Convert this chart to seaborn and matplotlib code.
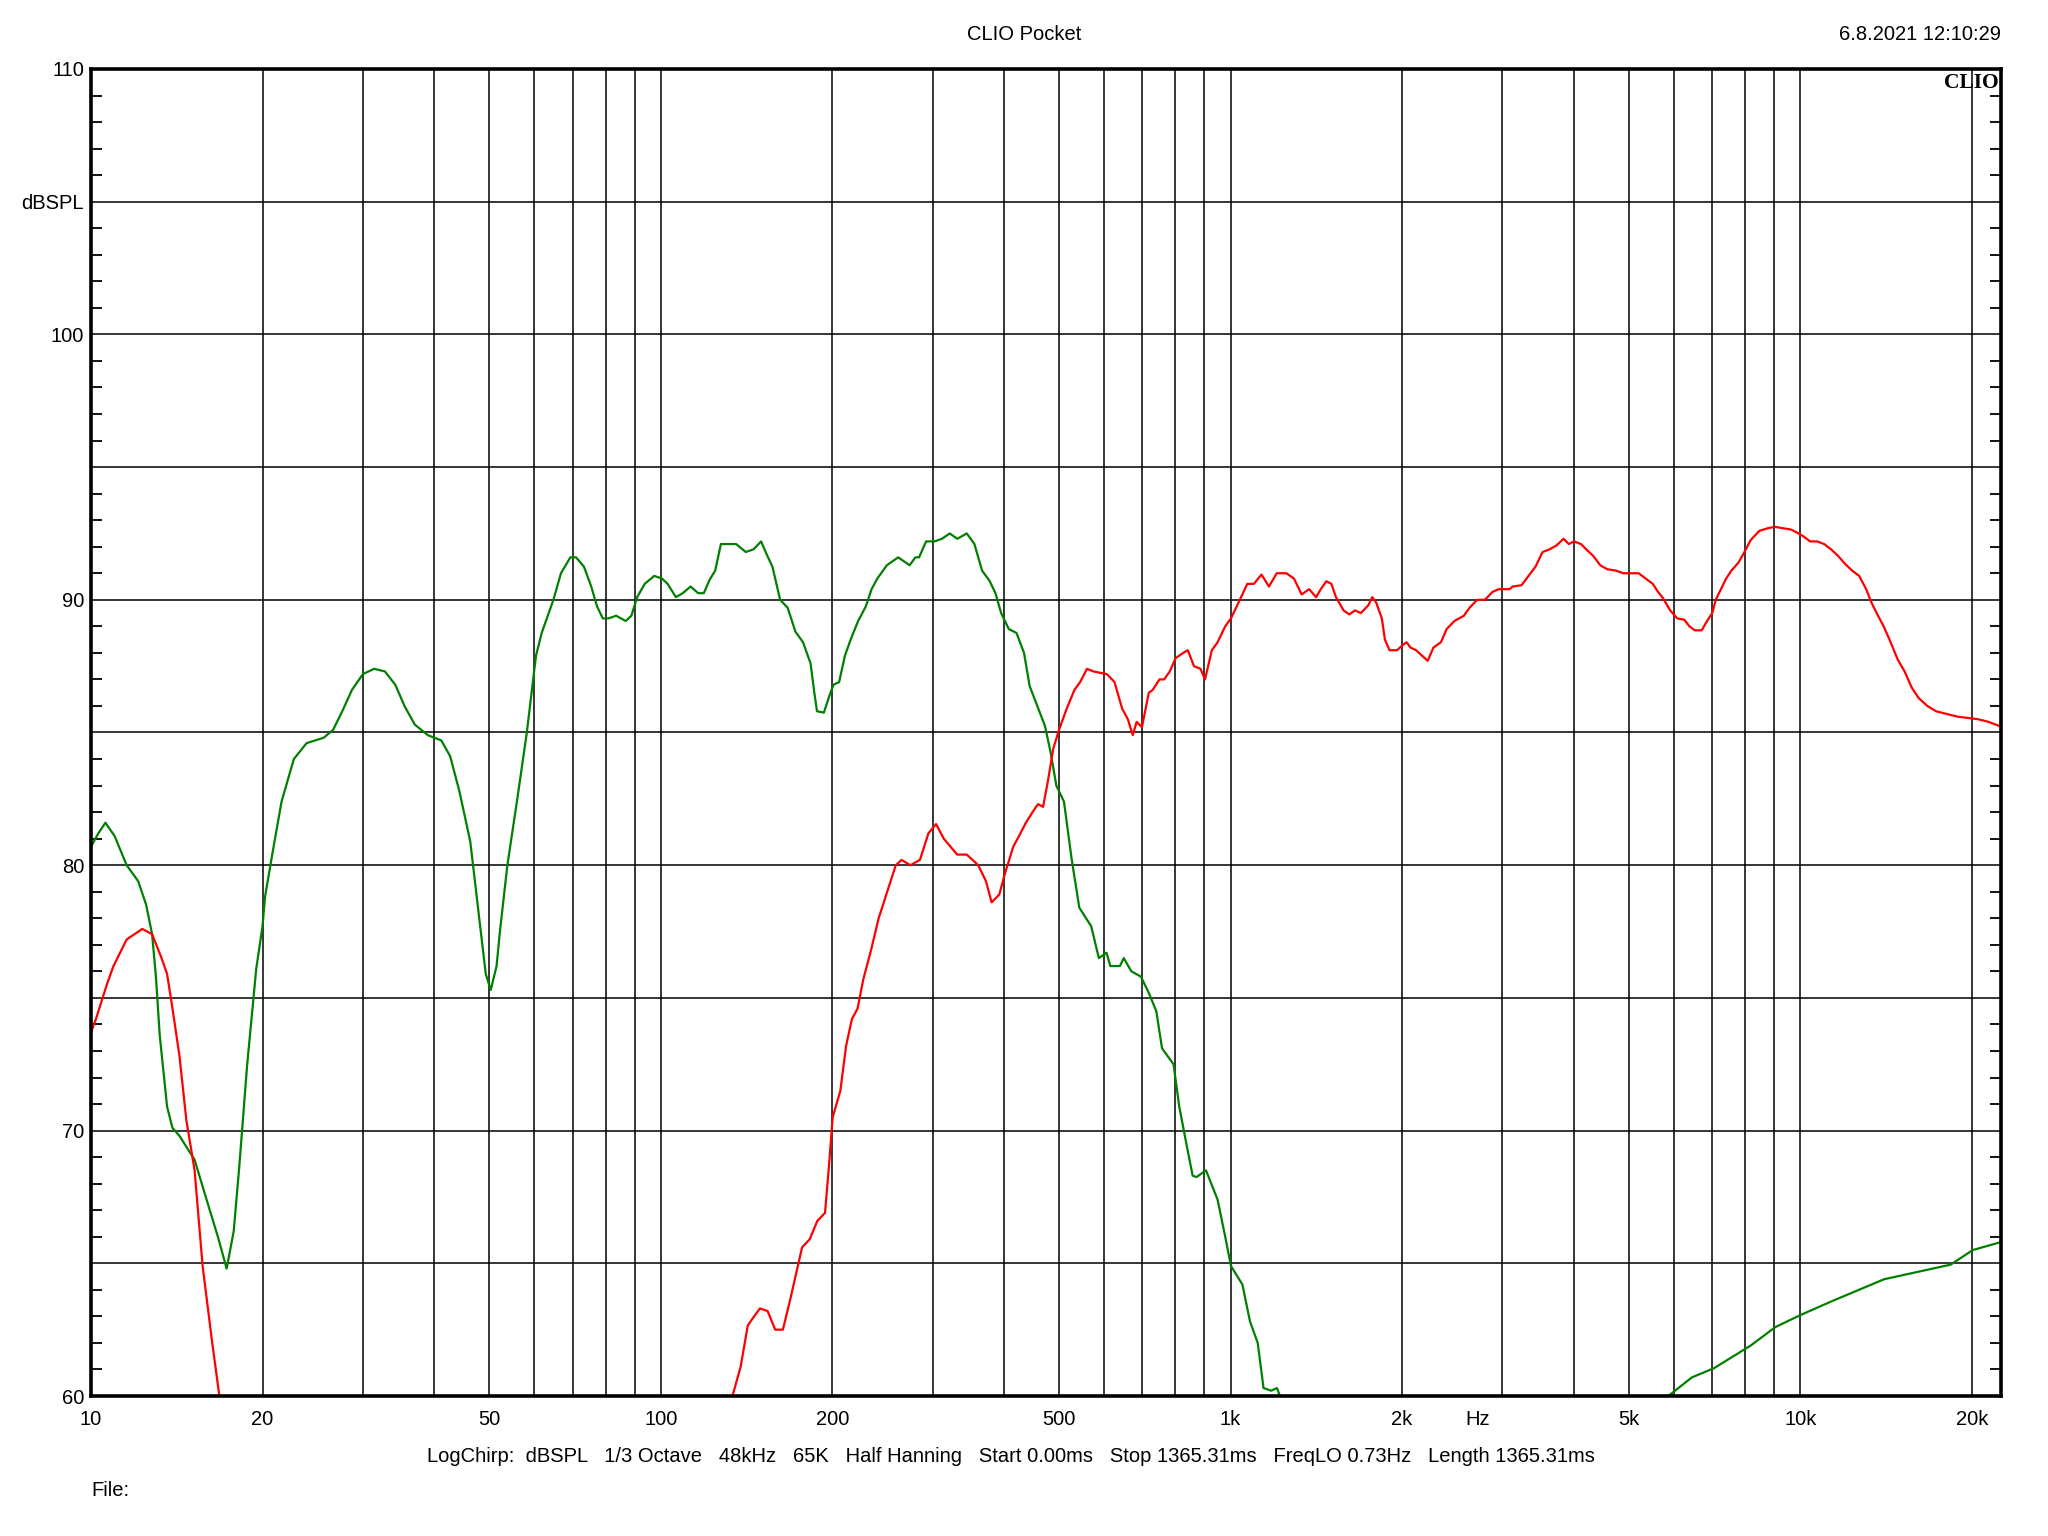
import matplotlib
matplotlib.use("Agg")
import matplotlib.pyplot as plt
import matplotlib.transforms as mtransforms
import seaborn as sns
from matplotlib.ticker import MultipleLocator, NullLocator, NullFormatter


# woofer (green), low segment down to where it leaves the 60 dB floor
GREEN_LF_HZ = [
    10.0, 10.3, 10.6, 11.0, 11.55, 12.1, 12.5, 12.8, 13.0, 13.2, 13.6, 13.9, 14.3,
    15.2, 15.9, 16.7, 17.3, 17.8, 18.2, 18.8, 19.5, 20.0, 20.2, 20.8, 21.6, 22.7,
    23.9, 25.6, 26.6, 27.6, 28.7, 30.0, 31.4, 32.8, 34.2, 35.5, 37.0, 39.0, 41.2,
    42.7, 44.3, 46.3, 47.9, 49.3, 50.3, 51.5, 52.2, 53.8, 56.0, 58.2, 60.4, 61.8,
    64.8, 66.8, 69.4, 71.0, 73.3, 75.5, 77.3, 79.1, 81.0, 83.5, 86.8, 88.8, 90.9,
    93.7, 97.4, 100.5, 102.8, 106.3, 109.3, 112.8, 116.3, 119.0, 121.8, 124.6,
    127.5, 130.6, 135.6, 141.0, 145.4, 150.0, 153.5, 157.0, 162.0, 167.0, 172.3,
    177.7, 183.2, 186.0, 188.0, 193.3, 197.8, 201.0, 205.6, 210.5, 215.4, 222.0,
    229.0, 234.4, 239.9, 249.3, 261.0, 273.4, 279.8, 284.0, 292.2, 302.2, 311.6,
    321.4, 331.5, 344.4, 355.2, 366.4, 377.9, 386.7, 395.7, 408.1, 421.0, 434.0,
    444.0, 458.0, 472.3, 483.3, 494.6, 510.0, 526.0, 542.7, 569.4, 587.3, 605.8,
    615.2, 639.4, 649.4, 669.8, 696.2, 718.2, 740.8, 758.1, 794.2, 812.8, 838.3,
    858.0, 871.4, 905.7, 948.9, 978.7, 1001.6, 1049.0, 1082.0, 1116.0, 1142.6,
    1178.6, 1206.0, 1221.0,
]
GREEN_LF_DB = [
    80.7, 81.2, 81.6, 81.1, 80.0, 79.4, 78.5, 77.4, 75.8, 73.6, 70.9, 70.1, 69.8,
    68.9, 67.5, 66.0, 64.8, 66.2, 68.6, 72.5, 76.1, 77.7, 78.8, 80.4, 82.4, 84.0,
    84.6, 84.8, 85.1, 85.8, 86.6, 87.2, 87.4, 87.3, 86.8, 86.0, 85.3, 84.9, 84.7,
    84.1, 82.8, 80.9, 78.2, 75.9, 75.3, 76.2, 77.5, 80.0, 82.5, 85.0, 87.9, 88.75,
    90.0, 91.0, 91.6, 91.6, 91.25, 90.5, 89.75, 89.3, 89.3, 89.4, 89.2, 89.4, 90.1,
    90.6, 90.9, 90.8, 90.6, 90.1, 90.25, 90.5, 90.25, 90.25, 90.75, 91.1,
    92.1, 92.1, 92.1, 91.8, 91.9, 92.2, 91.7, 91.25, 90.0, 89.7, 88.8,
    88.4, 87.6, 86.5, 85.8, 85.75, 86.4, 86.8, 86.9, 87.9, 88.5, 89.2,
    89.75, 90.4, 90.8, 91.3, 91.6, 91.3, 91.6, 91.6, 92.2, 92.2, 92.3,
    92.5, 92.3, 92.5, 92.1, 91.1, 90.7, 90.25, 89.5, 88.9, 88.75, 88.0,
    86.75, 86.0, 85.25, 84.25, 83.0, 82.4, 80.25, 78.4, 77.7, 76.5, 76.7,
    76.2, 76.2, 76.5, 76.0, 75.8, 75.2, 74.5, 73.1, 72.5, 70.9, 69.4,
    68.3, 68.25, 68.5, 67.4, 66.0, 64.9, 64.2, 62.8, 62.0, 60.3,
    60.2, 60.3, 60.0,
]

# woofer (green), the part that comes back above 60 dB at the top end
GREEN_HF_HZ = [5866, 6450, 7059, 8180, 9046, 10050, 11440, 14030, 16255, 18360, 20080, 22500]
GREEN_HF_DB = [60.0, 60.7, 61.05, 61.9, 62.6, 63.07, 63.6, 64.4, 64.7, 64.95, 65.5, 65.8]

# tweeter (red), low segment
RED_LF_HZ = [10.0, 10.2, 10.66, 10.95, 11.55, 12.3, 12.8, 13.3, 13.6, 13.9, 14.3, 14.7, 15.2, 15.7, 16.3, 16.8]
RED_LF_DB = [73.7, 74.2, 75.5, 76.2, 77.2, 77.6, 77.4, 76.5, 75.9, 74.6, 72.8, 70.4, 68.5, 64.9, 62.1, 60.0]

# tweeter (red), main segment
RED_HZ = [
    133.6, 138.1, 142.1, 144.7, 149.3, 154.0, 158.8, 163.8, 169.0, 177.0, 182.5,
    188.3, 194.2, 197.2, 200.3, 206.6, 211.5, 216.5, 221.5, 226.7, 233.9, 241.2,
    248.8, 258.5, 264.6, 274.3, 285.0, 294.9, 304.2, 313.8, 331.3, 344.4, 360.7,
    372.1, 380.8, 392.8, 402.0, 406.0, 415.6, 425.4, 437.3, 452.4, 459.4, 468.7,
    477.4, 488.6, 500.0, 515.8, 532.0, 544.5, 559.8, 574.7, 606.6, 625.6, 645.3,
    660.3, 673.6, 684.1, 699.0, 718.7, 729.8, 750.3, 764.4, 782.3, 800.6, 826.0,
    841.4, 862.5, 885.4, 902.0, 927.2, 948.8, 978.6, 1001.6, 1033, 1070, 1099,
    1133, 1168, 1205, 1253, 1292, 1333, 1374, 1413, 1440, 1473, 1503, 1531, 1579,
    1616, 1654, 1693, 1746, 1773, 1801, 1843, 1866, 1901, 1960, 2006, 2037, 2069,
    2117, 2167, 2218, 2270, 2340, 2395, 2471, 2567, 2627, 2710, 2795, 2883, 2957,
    3085, 3129, 3241, 3334, 3430, 3528, 3630, 3734, 3841, 3923, 4007, 4122, 4210,
    4331, 4456, 4584, 4749, 4885, 5024, 5203, 5353, 5508, 5626, 5746, 5910, 6080,
    6255, 6389, 6526, 6714, 6858, 7005, 7105, 7255, 7410, 7569, 7786, 7954, 8181,
    8476, 8779, 9033, 9292, 9625, 9832, 10113, 10404, 10703, 11009, 11325, 11650,
    11985, 12329, 12684, 13048, 13328, 13613, 14004, 14406, 14820, 15241, 15678,
    16128, 16707, 17310, 18060, 18840, 19650, 20510, 21400, 22320, 22500,
]
RED_DB = [
    60.0, 61.1, 62.65, 62.9, 63.3, 63.2, 62.5, 62.5, 63.7, 65.6, 65.9,
    66.6, 66.9, 68.6, 70.5, 71.5, 73.2, 74.2, 74.6, 75.7, 76.8, 78.0,
    78.9, 80.0, 80.2, 80.0, 80.2, 81.2, 81.55, 81.0, 80.4, 80.4, 80.0,
    79.4, 78.6, 78.9, 79.7, 80.0, 80.7, 81.1, 81.6, 82.1, 82.3, 82.2,
    83.1, 84.4, 85.1, 85.9, 86.6, 86.9, 87.4, 87.3, 87.2, 86.9, 85.9,
    85.5, 84.9, 85.4, 85.2, 86.5, 86.6, 87.0, 87.0, 87.3, 87.8, 88.0,
    88.1, 87.5, 87.4, 87.0, 88.1, 88.4, 89.0, 89.3, 89.9, 90.6, 90.6,
    90.95, 90.5, 91.0, 91.0, 90.8, 90.2, 90.4, 90.1, 90.4, 90.7, 90.6, 90.1, 89.6,
    89.45, 89.6, 89.5, 89.8, 90.1, 89.9, 89.3, 88.5, 88.1, 88.1, 88.3, 88.4, 88.2,
    88.1, 87.9, 87.7, 88.2, 88.4, 88.9, 89.2, 89.4, 89.7, 90.0, 90.0, 90.3, 90.4,
    90.4, 90.5, 90.55, 90.9, 91.25, 91.8, 91.9, 92.05, 92.3, 92.1, 92.2, 92.1, 91.9,
    91.65, 91.3, 91.15, 91.1, 91.0, 91.0, 91.0, 90.8, 90.6, 90.3, 90.05, 89.6, 89.3,
    89.25, 89.0, 88.85, 88.85, 89.2, 89.5, 90.0, 90.4, 90.8, 91.1, 91.4, 91.75, 92.25,
    92.6, 92.7, 92.75, 92.7, 92.65, 92.55, 92.4, 92.2, 92.2, 92.1, 91.9, 91.65,
    91.35, 91.1, 90.9, 90.4, 89.9, 89.5, 89.0, 88.4, 87.75, 87.3, 86.7,
    86.3, 86.0, 85.8, 85.7, 85.6, 85.55, 85.5, 85.4, 85.25, 85.2,
]

X_GRID = [20, 30, 40, 50, 60, 70, 80, 90, 100, 200, 300, 400, 500, 600, 700, 800, 900,
          1000, 2000, 3000, 4000, 5000, 6000, 7000, 8000, 9000, 10000, 20000]
X_LABELS = {10: "10", 20: "20", 50: "50", 100: "100", 200: "200", 500: "500",
            1000: "1k", 2000: "2k", 5000: "5k", 10000: "10k", 20000: "20k"}
Y_TICKS = [60, 65, 70, 75, 80, 85, 90, 95, 100, 105, 110]
Y_LABELS = ["60", "", "70", "", "80", "", "90", "", "100", "dBSPL", "110"]

FOOTER = ("LogChirp:  dBSPL   1/3 Octave   48kHz   65K   Half Hanning   Start 0.00ms   "
          "Stop 1365.31ms   FreqLO 0.73Hz   Length 1365.31ms")

FS = 14.5


def main() -> None:
    sns.set_theme(style="white", rc={"text.color": "black", "axes.edgecolor": "black",
                                     "xtick.color": "black", "ytick.color": "black",
                                     "axes.labelcolor": "black"})
    plt.rcParams["font.family"] = ["Liberation Sans", "DejaVu Sans"]

    W, H = 2048, 1536
    fig = plt.figure(figsize=(W / 100, H / 100), dpi=100)
    ax = fig.add_axes([91 / W, 140 / H, 1910 / W, 1327 / H])

    sns.lineplot(x=GREEN_LF_HZ, y=GREEN_LF_DB, color="#008000", linewidth=1.6, sort=False, ax=ax)
    sns.lineplot(x=GREEN_HF_HZ, y=GREEN_HF_DB, color="#008000", linewidth=1.6, sort=False, ax=ax)
    sns.lineplot(x=RED_LF_HZ, y=RED_LF_DB, color="#ff0000", linewidth=1.6, sort=False, ax=ax)
    sns.lineplot(x=RED_HZ, y=RED_DB, color="#ff0000", linewidth=1.6, sort=False, ax=ax)

    ax.set_xscale("log")
    ax.set_xlim(10, 22500)
    ax.set_ylim(60, 110)

    xticks = [10] + X_GRID
    ax.set_xticks(xticks)
    ax.set_xticklabels([X_LABELS.get(t, "") for t in xticks])
    ax.xaxis.set_minor_locator(NullLocator())
    ax.xaxis.set_minor_formatter(NullFormatter())
    ax.set_yticks(Y_TICKS)
    ax.set_yticklabels(Y_LABELS)
    ax.yaxis.set_minor_locator(MultipleLocator(1))

    ax.tick_params(axis="x", which="major", length=0, pad=10, labelsize=FS)
    ax.tick_params(axis="y", which="major", length=0, pad=5, labelsize=FS)
    ax.tick_params(axis="y", which="minor", direction="in", length=8, width=1.3,
                   left=True, right=True, color="black")
    ax.grid(True, which="major", color="black", linewidth=1.1)
    ax.set_xlabel("")
    ax.set_ylabel("")
    for spine in ax.spines.values():
        spine.set_linewidth(2.6)
        spine.set_color("black")
        spine.set_zorder(5)

    trans = mtransforms.blended_transform_factory(ax.transData, ax.transAxes)
    ax.text(2710, -0.0105, "Hz", transform=trans, ha="center", va="top", fontsize=FS)
    ax.text(0.999, 0.997, "CLIO", transform=ax.transAxes, ha="right", va="top",
            fontsize=15.5, fontweight="bold", family=["Liberation Serif", "DejaVu Serif"])

    fig.text(0.5, 1 - 35 / H, "CLIO Pocket", ha="center", va="center", fontsize=FS)
    fig.text(2001 / W, 1 - 35 / H, "6.8.2021 12:10:29", ha="right", va="center", fontsize=FS)
    fig.text(1011 / W, 1 - 1456 / H, FOOTER, ha="center", va="center", fontsize=FS)
    fig.text(91 / W, 1 - 1490 / H, "File:", ha="left", va="center", fontsize=FS)

    fig.savefig("out.png", dpi=100, facecolor="white")
    plt.close(fig)


if __name__ == "__main__":
    main()
